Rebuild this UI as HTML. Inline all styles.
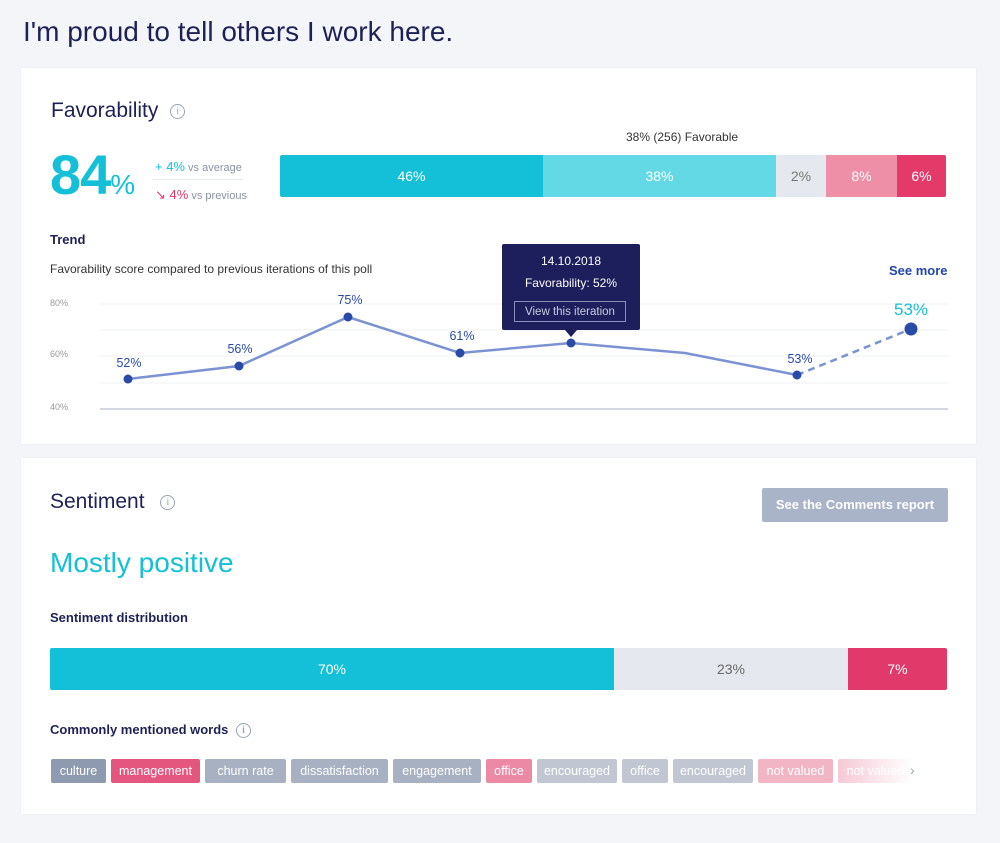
<!DOCTYPE html>
<html><head><style>
body{margin:0;width:1000px;height:843px;background:#f3f5f9;font-family:"Liberation Sans",sans-serif;position:relative;overflow:hidden;color:#1e2156}
.a{position:absolute}
.card{position:absolute;background:#fff;left:21px;width:955px;box-shadow:0 0 2px rgba(0,0,0,.05)}
.seg{position:absolute;top:0;height:100%;display:flex;align-items:center;justify-content:center;font-size:14px;color:#fff}
.tag{position:absolute;top:759px;height:24px;line-height:24px;font-size:12.5px;color:#fff;text-align:center;border-radius:2px}
.info{display:inline-block;width:13px;height:13px;border:1px solid #9aa3b5;border-radius:50%;font-size:10px;line-height:13px;text-align:center;color:#9aa3b5;vertical-align:middle}
</style></head><body>
<div class="a" style="left:23px;top:16px;font-size:28px;color:#1e2156">I'm proud to tell others I work here.</div>
<div class="card" style="top:68px;height:376px"></div>
<div class="card" style="top:458px;height:356px"></div>

<div class="a" style="left:51px;top:99px;font-size:21px;color:#1e2156">Favorability <span class="info" style="margin-left:6px">i</span></div>
<div class="a" style="left:50px;top:142px;font-size:56px;color:#14c0d8;font-weight:bold;letter-spacing:-1px">84<span style="font-size:28px;font-weight:normal">%</span></div>
<div class="a" style="left:155px;top:159px;font-size:11px;color:#8a92a4"><span style="color:#14c0d8;font-size:13px">+ 4%</span> vs average</div>
<div class="a" style="left:153px;top:179px;width:90px;height:1px;background:#e8ebf0"></div>
<div class="a" style="left:155px;top:187px;font-size:11px;color:#8a92a4"><span style="color:#e33a6a;font-size:13px">↘ 4%</span> vs previous</div>
<div class="a" style="left:626px;top:130px;font-size:12px;color:#333">38% (256) Favorable</div>
<div class="a" style="left:280px;top:155px;width:666px;height:42px;border-radius:2px;overflow:hidden">
<div class="seg" style="left:0;width:263px;background:#14c0d8">46%</div>
<div class="seg" style="left:263px;width:233px;background:#64d9e6">38%</div>
<div class="seg" style="left:496px;width:50px;background:#e5e9ef;color:#777">2%</div>
<div class="seg" style="left:546px;width:71px;background:#ee8fa7">8%</div>
<div class="seg" style="left:617px;width:49px;background:#e33a6a">6%</div>
</div>
<div class="a" style="left:50px;top:232px;font-size:13px;font-weight:bold">Trend</div>
<div class="a" style="left:50px;top:262px;font-size:12px;color:#333">Favorability score compared to previous iterations of this poll</div>
<div class="a" style="left:889px;top:263px;font-size:13px;font-weight:bold;color:#2446a8">See more</div>
<svg class="a" style="left:0;top:0" width="1000" height="843">
<g font-size="9" fill="#999" font-family="Liberation Sans"><text x="50" y="306">80%</text><text x="50" y="357">60%</text><text x="50" y="410">40%</text></g>
<g stroke="#eef0f4"><line x1="100" x2="948" y1="304" y2="304"/><line x1="100" x2="948" y1="330" y2="330"/><line x1="100" x2="948" y1="356" y2="356"/><line x1="100" x2="948" y1="383" y2="383"/></g>
<line x1="100" x2="948" y1="409" y2="409" stroke="#d4d8e2" stroke-width="2"/>
<polyline points="128,379 239,366 348,317 460,353 571,343 685,353 797,375" fill="none" stroke="#7b93d3" stroke-width="2.5"/>
<line x1="797" y1="375" x2="911" y2="329" stroke="#7b93d3" stroke-width="2.5" stroke-dasharray="7,5"/>
<g fill="#2a4aa8"><circle cx="128" cy="379" r="4.5"/><circle cx="239" cy="366" r="4.5"/><circle cx="348" cy="317" r="4.5"/><circle cx="460" cy="353" r="4.5"/><circle cx="571" cy="343" r="4.5"/><circle cx="797" cy="375" r="4.5"/><circle cx="911" cy="329" r="6.5"/></g>
<g font-size="12.5" fill="#2a4aa8" font-family="Liberation Sans" text-anchor="middle"><text x="129" y="367">52%</text><text x="240" y="353">56%</text><text x="350" y="304">75%</text><text x="462" y="340">61%</text><text x="800" y="363">53%</text><text x="911" y="315" font-size="17" fill="#14c0d8">53%</text></g>
<rect x="502" y="244" width="138" height="86" fill="#1d1f5c" rx="2"/>
<polygon points="565,330 577,330 571,337" fill="#1d1f5c"/>
<g font-family="Liberation Sans" fill="#fff" text-anchor="middle" font-size="12"><text x="571" y="265">14.10.2018</text><text x="571" y="287">Favorability: 52%</text></g>
<rect x="514.5" y="301.5" width="111" height="20" fill="none" stroke="#8a8fb8"/>
<text x="570" y="315" font-family="Liberation Sans" font-size="11.5" fill="#c8cbe0" text-anchor="middle">View this iteration</text>
</svg>

<div class="a" style="left:50px;top:490px;font-size:21px">Sentiment <span class="info" style="margin-left:10px">i</span></div>
<div class="a" style="left:762px;top:488px;width:186px;height:34px;background:#a9b4c8;color:#fff;font-size:13px;font-weight:bold;line-height:34px;text-align:center;border-radius:2px">See the Comments report</div>
<div class="a" style="left:50px;top:547px;font-size:28px;color:#14c0d8">Mostly positive</div>
<div class="a" style="left:50px;top:610px;font-size:13px;font-weight:bold">Sentiment distribution</div>
<div class="a" style="left:50px;top:648px;width:897px;height:42px;border-radius:2px;overflow:hidden">
<div class="seg" style="left:0;width:564px;background:#14c0d8">70%</div>
<div class="seg" style="left:564px;width:234px;background:#e5e9ef;color:#666">23%</div>
<div class="seg" style="left:798px;width:99px;background:#e0396a">7%</div>
</div>
<div class="a" style="left:50px;top:722px;font-size:13px;font-weight:bold">Commonly mentioned words <span class="info" style="margin-left:4px">i</span></div>
<div class="tag" style="left:51px;width:55px;background:#8d9ab0">culture</div>
<div class="tag" style="left:111px;width:89px;background:#e5567f">management</div>
<div class="tag" style="left:205px;width:81px;background:#a7b1c2">churn rate</div>
<div class="tag" style="left:291px;width:97px;background:#a7b1c2">dissatisfaction</div>
<div class="tag" style="left:393px;width:88px;background:#a7b1c2">engagement</div>
<div class="tag" style="left:486px;width:46px;background:#ec8aa5">office</div>
<div class="tag" style="left:537px;width:80px;background:#c0c7d3">encouraged</div>
<div class="tag" style="left:622px;width:46px;background:#c0c7d3">office</div>
<div class="tag" style="left:673px;width:80px;background:#c0c7d3">encouraged</div>
<div class="tag" style="left:758px;width:75px;background:#f2b5c6">not valued</div>
<div class="tag" style="left:838px;width:75px;background:linear-gradient(90deg,#f6c9d6,#fff)">not valued</div>
<div class="a" style="left:910px;top:762px;font-size:14px;color:#9aa3b5">›</div>
</body></html>
